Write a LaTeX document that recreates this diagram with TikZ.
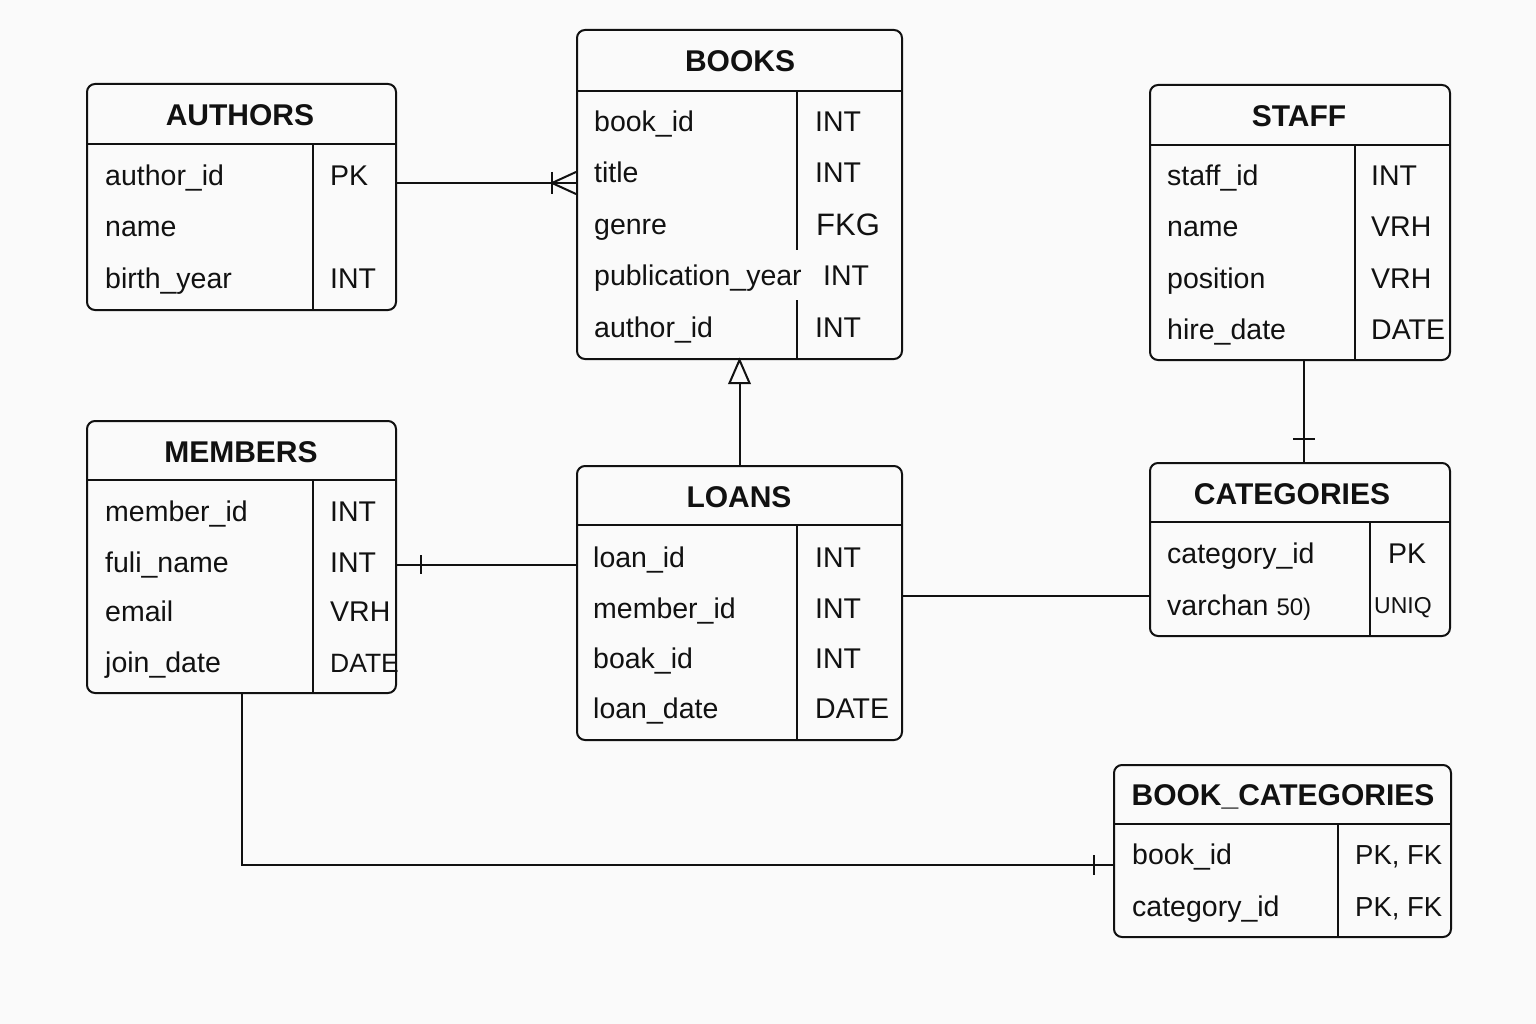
\documentclass[tikz,border=0pt]{standalone}
\usepackage{fontspec}
\setmainfont{Liberation Sans}
\definecolor{bg}{RGB}{250,250,250}
\definecolor{ink}{RGB}{17,17,17}
\begin{document}
\begin{tikzpicture}[x=1pt,y=-1pt,
  tbl/.style={draw=ink, line width=2pt, rounded corners=8pt, inner sep=0pt},
  sep/.style={draw=ink, line width=2pt},
  conn/.style={draw=ink, line width=2pt},
  ttl/.style={inner sep=0pt, text height=21pt, text depth=0pt, font=\fontsize{30}{32}\selectfont\bfseries, text=ink},
  fld/.style={anchor=west, inner sep=0pt, text height=20pt, text depth=0pt, font=\fontsize{28.5}{32}\selectfont, text=ink},
  typ/.style={anchor=west, inner sep=0pt, text height=20pt, text depth=0pt, font=\fontsize{28.5}{32}\selectfont, text=ink},
  typs/.style={anchor=west, inner sep=0pt, text height=17pt, text depth=0pt, font=\fontsize{23}{26}\selectfont, text=ink}]
\fill[bg] (0,0) rectangle (1536,1024);
\useasboundingbox (0,0) rectangle (1536,1024);

% ---------- AUTHORS ----------
\node[tbl, minimum width=309pt, minimum height=226pt] (authors) at (241.5,197) {};
\draw[sep] (authors.west |- 0,144) -- (authors.east |- 0,144);
\draw[sep] (313,144) -- (313,0 |- authors.south);
\node[ttl] (authorsT) at (240,115) {AUTHORS};
\node[fld] (a1) at (105,176) {author\_id};
\node[fld] (a2) at (105,227) {name};
\node[fld] (a3) at (105,278) {birth\_year};
\node[typ] (a1t) at (330,176) {PK};
\node[typ] (a3t) at (330,278) {INT};

% ---------- BOOKS ----------
\node[tbl, minimum width=325pt, minimum height=329pt] (books) at (739.5,194.5) {};
\draw[sep] (books.west |- 0,91) -- (books.east |- 0,91);
\draw[sep] (797,91) -- (797,250);
\draw[sep] (797,300) -- (797,0 |- books.south);
\node[ttl] (booksT) at (740,61) {BOOKS};
\node[fld] (b1) at (594,122) {book\_id};
\node[fld] (b2) at (594,173) {title};
\node[fld] (b3) at (594,225) {genre};
\node[fld] (b4) at (594,276) {publication\_year};
\node[fld] (b5) at (594,327) {author\_id};
\node[typ] (b1t) at (815,122) {INT};
\node[typ] (b2t) at (815,173) {INT};
\node[typ, text height=22pt, font=\fontsize{31}{32}\selectfont] (b3t) at (816,225) {FKG};
\node[typ] (b4t) at (823,276) {INT};
\node[typ] (b5t) at (815,327) {INT};

% ---------- STAFF ----------
\node[tbl, minimum width=300pt, minimum height=275pt] (staff) at (1300,222.5) {};
\draw[sep] (staff.west |- 0,145) -- (staff.east |- 0,145);
\draw[sep] (1355,145) -- (1355,0 |- staff.south);
\node[ttl] (staffT) at (1299,116) {STAFF};
\node[fld] (s1) at (1167,176) {staff\_id};
\node[fld] (s2) at (1167,227) {name};
\node[fld] (s3) at (1167,278) {position};
\node[fld] (s4) at (1167,329) {hire\_date};
\node[typ] (s1t) at (1371,176) {INT};
\node[typ] (s2t) at (1371,227) {VRH};
\node[typ] (s3t) at (1371,278) {VRH};
\node[typ] (s4t) at (1371,329) {DATE};

% ---------- MEMBERS ----------
\node[tbl, minimum width=309pt, minimum height=272pt] (members) at (241.5,557) {};
\draw[sep] (members.west |- 0,480) -- (members.east |- 0,480);
\draw[sep] (313,480) -- (313,0 |- members.south);
\node[ttl] (membersT) at (241,452) {MEMBERS};
\node[fld] (m1) at (105,511) {member\_id};
\node[fld] (m2) at (105,562) {fuli\_name};
\node[fld] (m3) at (105,611) {email};
\node[fld] (m4) at (105,662) {join\_date};
\node[typ] (m1t) at (330,511) {INT};
\node[typ] (m2t) at (330,562) {INT};
\node[typ] (m3t) at (330,611) {VRH};
\node[typ, font=\fontsize{26.5}{30}\selectfont] (m4t) at (330,662) {DATE};

% ---------- LOANS ----------
\node[tbl, minimum width=325pt, minimum height=274pt] (loans) at (739.5,603) {};
\draw[sep] (loans.west |- 0,525) -- (loans.east |- 0,525);
\draw[sep] (797,525) -- (797,0 |- loans.south);
\node[ttl] (loansT) at (739,497) {LOANS};
\node[fld] (l1) at (593,557) {loan\_id};
\node[fld] (l2) at (593,608) {member\_id};
\node[fld] (l3) at (593,658) {boak\_id};
\node[fld] (l4) at (593,708) {loan\_date};
\node[typ] (l1t) at (815,557) {INT};
\node[typ] (l2t) at (815,608) {INT};
\node[typ] (l3t) at (815,658) {INT};
\node[typ] (l4t) at (815,708) {DATE};

% ---------- CATEGORIES ----------
\node[tbl, minimum width=300pt, minimum height=173pt] (cats) at (1300,549.5) {};
\draw[sep] (cats.west |- 0,522) -- (cats.east |- 0,522);
\draw[sep] (1370,522) -- (1370,0 |- cats.south);
\node[ttl] (catsT) at (1292,494) {CATEGORIES};
\node[fld] (c1) at (1167,553) {category\_id};
\node[fld] (c2) at (1167,605) {varchan {\fontsize{24}{28}\selectfont 50)}};
\node[typ] (c1t) at (1388,553) {PK};
\node[typs] (c2t) at (1374,605) {UNIQ};

% ---------- BOOK_CATEGORIES ----------
\node[tbl, minimum width=337pt, minimum height=172pt] (bc) at (1282.5,851) {};
\draw[sep] (bc.west |- 0,824) -- (bc.east |- 0,824);
\draw[sep] (1338,824) -- (1338,0 |- bc.south);
\node[ttl] (bcT) at (1283,795) {BOOK\_CATEGORIES};
\node[fld] (bc1) at (1132,854) {book\_id};
\node[fld] (bc2) at (1132,906) {category\_id};
\node[typ, font=\fontsize{27.5}{32}\selectfont] (bc1t) at (1355,854) {PK, FK};
\node[typ, font=\fontsize{27.5}{32}\selectfont] (bc2t) at (1355,906) {PK, FK};

% ---------- connectors ----------
% AUTHORS -> BOOKS (one to many)
\draw[conn] (authors.east |- 0,183) -- (books.west |- 0,183);
\draw[conn] (books.west |- 0,172) -- (552,183) -- (books.west |- 0,194);
\draw[conn] (552,172) -- (552,194);

% LOANS -> BOOKS (open triangle)
\draw[conn] (loans.north) -- (loans.north |- 0,383);
\draw[conn, fill=bg, line join=miter] (books.south) -- ([xshift=-10pt]books.south |- 0,383) -- ([xshift=10pt]books.south |- 0,383) -- cycle;

% STAFF -- CATEGORIES
\draw[conn] (1304,0 |- staff.south) -- (1304,0 |- cats.north);
\draw[conn] (1293,439) -- (1315,439);

% MEMBERS -- LOANS
\draw[conn] (members.east |- 0,565) -- (loans.west |- 0,565);
\draw[conn] (421,555) -- (421,574);

% LOANS -- CATEGORIES
\draw[conn] (loans.east |- 0,596) -- (cats.west |- 0,596);

% MEMBERS -- BOOK_CATEGORIES
\coordinate (bend) at (242,865);
\draw[conn] (242,0 |- members.south) -- (bend) -- (bc.west |- bend);
\draw[conn] (1094,855) -- (1094,875);
\end{tikzpicture}
\end{document}
